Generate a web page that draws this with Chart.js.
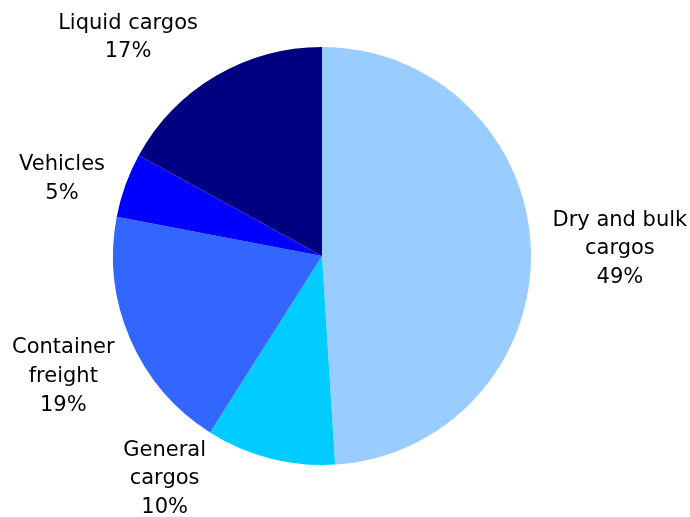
<!DOCTYPE html>
<html>
<head>
<meta charset="utf-8">
<script src="https://cdn.jsdelivr.net/npm/chart.js@4/dist/chart.umd.min.js"></script>
<style>
  html, body { margin: 0; padding: 0; background: #fff; }
  #wrap { width: 690px; height: 517px; }
</style>
</head>
<body>
<div id="wrap"><canvas id="cargoPie"></canvas></div>
<script>
// Cargo mix by type, percent of total tonnage
const categories = [
  ['Dry and bulk', 'cargos'],
  ['General', 'cargos'],
  ['Container', 'freight'],
  ['Vehicles'],
  ['Liquid cargos']
];
const shares = [49, 10, 19, 5, 17];
const sliceColors = ['#99CCFF', '#00CCFF', '#3366FF', '#0000FF', '#000080'];

const FONT = '21px "DejaVu Sans", sans-serif';
const LINE_H = 28.7;

// Draws name + percent outside each slice: anchored on the bisector a fixed
// distance past the rim, then shifted so labels stay clear of each other
const outsideLabels = {
  id: 'outsideLabels',
  afterDatasetsDraw(chart, args, opts) {
    const ctx = chart.ctx;
    const meta = chart.getDatasetMeta(0);
    ctx.save();
    ctx.font = FONT;
    ctx.fillStyle = '#000';
    ctx.textAlign = 'center';
    ctx.textBaseline = 'middle';
    meta.data.forEach((arc, i) => {
      const lines = categories[i].concat([shares[i] + '%']);
      const mid = (arc.startAngle + arc.endAngle) / 2;
      const dist = arc.outerRadius + opts.gap;
      const shift = opts.shift[i] || [0, 0];
      const cx = arc.x + Math.cos(mid) * dist + shift[0];
      const cy = arc.y + Math.sin(mid) * dist + shift[1];
      lines.forEach((l, k) => {
        ctx.fillText(l, cx, cy + (k - (lines.length - 1) / 2) * LINE_H);
      });
    });
    ctx.restore();
  }
};

new Chart(document.getElementById('cargoPie'), {
  type: 'pie',
  data: {
    labels: categories.map(c => c.join(' ')),
    datasets: [{
      data: shares,
      backgroundColor: sliceColors,
      borderWidth: 0
    }]
  },
  options: {
    responsive: true,
    maintainAspectRatio: false,
    animation: false,
    layout: { padding: { left: 113, right: 159, top: 47, bottom: 52 } },
    plugins: {
      legend: { display: false },
      tooltip: { enabled: false },
      outsideLabels: {
        gap: 62,
        shift: [[27, 1.5], [-90, -39.5], [-10, 13], [-5, 15], [-56, 14.7]]
      }
    }
  },
  plugins: [outsideLabels]
});
</script>
</body>
</html>
